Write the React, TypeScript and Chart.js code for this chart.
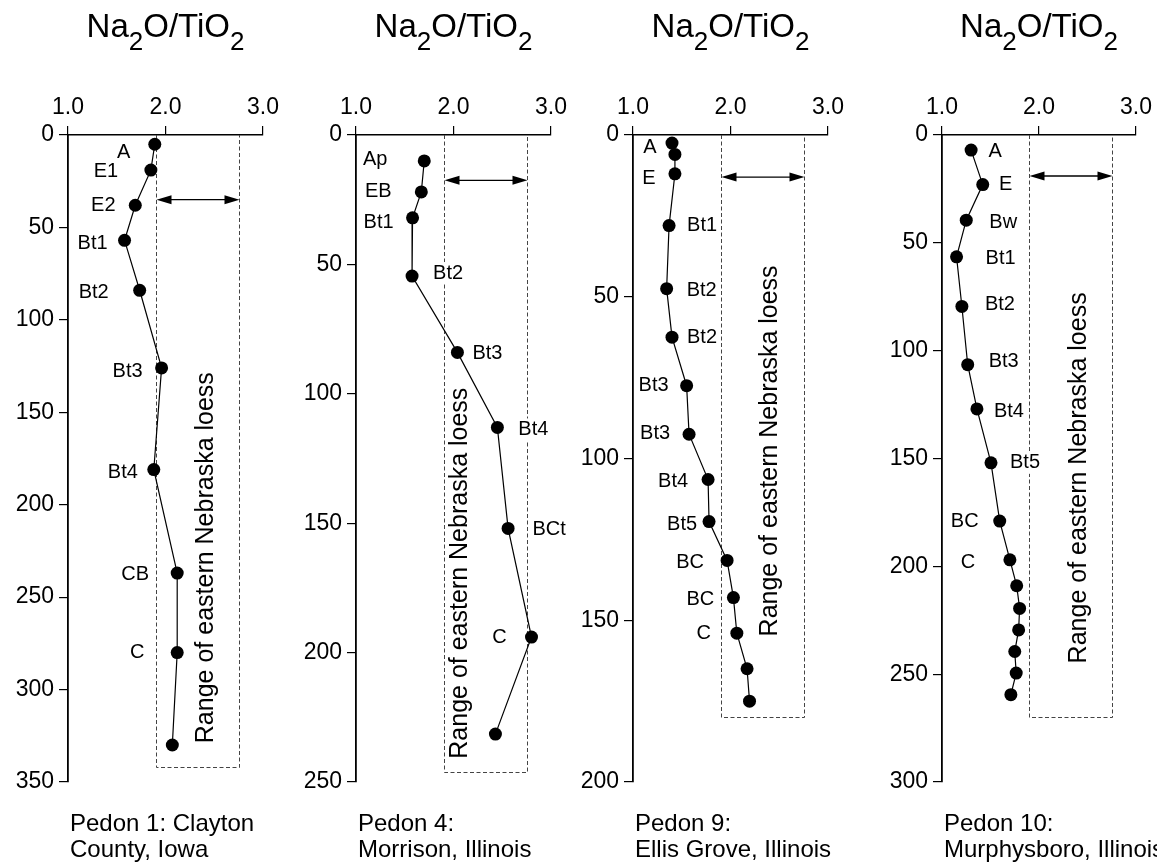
import { useEffect, useRef } from 'react';
import { Chart, registerables } from 'chart.js';

Chart.register(...registerables);

// ---- Pedon 1: Clayton County, Iowa ----
const p1Horizons = ['A', 'E1', 'E2', 'Bt1', 'Bt2', 'Bt3', 'Bt4', 'CB', 'C', ''];
const p1Ratio = [1.89, 1.85, 1.69, 1.58, 1.735, 1.96, 1.88, 2.12, 2.12, 2.07];
const p1Depth = [5, 19, 38, 57, 84, 126, 181, 237, 280, 330];

// ---- Pedon 4: Morrison, Illinois ----
const p4Horizons = ['Ap', 'EB', 'Bt1', 'Bt2', 'Bt3', 'Bt4', 'BCt', 'C', ''];
const p4Ratio = [1.7, 1.67, 1.58, 1.575, 2.04, 2.45, 2.56, 2.8, 2.43];
const p4Depth = [10, 22, 32, 54.5, 84, 113, 152, 194, 231.5];

// ---- Pedon 9: Ellis Grove, Illinois ----
const p9Horizons = ['A', '', 'E', 'Bt1', 'Bt2', 'Bt2', 'Bt3', 'Bt3', 'Bt4', 'Bt5', 'BC', 'BC', 'C', '', ''];
const p9Ratio = [1.4, 1.43, 1.43, 1.37, 1.345, 1.4, 1.55, 1.575, 1.77, 1.78, 1.965, 2.03, 2.065, 2.17, 2.195];
const p9Depth = [2.5, 6, 12, 28, 47.5, 62.5, 77.5, 92.5, 106.5, 119.5, 131.5, 143, 154, 165, 175];

// ---- Pedon 10: Murphysboro, Illinois ----
const p10Horizons = ['A', 'E', 'Bw', 'Bt1', 'Bt2', 'Bt3', 'Bt4', 'Bt5', 'BC', 'C', '', '', '', '', '', ''];
const p10Ratio = [1.3, 1.42, 1.25, 1.15, 1.205, 1.265, 1.36, 1.505, 1.595, 1.7, 1.77, 1.8, 1.79, 1.75, 1.765, 1.71];
const p10Depth = [7, 23, 39.5, 56.5, 79.5, 106.5, 127, 152, 179, 197, 209, 219.5, 229.5, 239.5, 249.5, 259.5];

// Range of Na2O/TiO2 in eastern Nebraska loess
const loessMin = 1.9;
const loessMax = 2.75;

// Axis ranges
const ratioMin = 1;
const ratioMax = 3;
const depthMax = [350, 250, 200, 300];
const depthStep = 50;

// Depth (cm) where each reference box ends, where its arrow sits, and where its caption starts
const boxBottom = [342, 246, 180, 270];
const arrowDepth = [35, 17.5, 13, 19];
const rangeTextX = [2.415, 2.07, 2.41, 2.41];
const rangeTextDepth = [329, 241, 155, 245];

const captions = [
  ['Pedon 1: Clayton', 'County, Iowa'],
  ['Pedon 4:', 'Morrison, Illinois'],
  ['Pedon 9:', 'Ellis Grove, Illinois'],
  ['Pedon 10:', 'Murphysboro, Illinois'],
];

// Horizon label placement: pixel offset of the label centre from its point
const p1LabelOffsets = [[-31, 8], [-45, 1], [-32, 0], [-32, 3], [-46, 2], [-34, 4], [-31, 3], [-42, 1], [-40, 0], [0, 0]];
const p4LabelOffsets = [[-49, -1], [-43, 0], [-34, 5], [36, -3], [30, 1], [36, 2], [41, 1], [-32, 0], [0, 0]];
const p9LabelOffsets = [[-22, 4], [0, 0], [-26, 5], [33, 0], [35, 2], [30, 0], [-33, 0], [-34, -1], [-35, 2], [-27, 3], [-37, 2], [-33, 2], [-33, 0], [0, 0], [0, 0]];
const p10LabelOffsets = [[24, 1], [23, 0], [37, 2], [44, 2], [38, -2], [36, -3], [32, 3], [34, 0], [-35, 0], [-42, 3], [0, 0], [0, 0], [0, 0], [0, 0], [0, 0], [0, 0]];

// Page layout
const PAGE_W = 1157;
const PAGE_H = 862;
const PLOT_LEFT = [68, 356, 633, 942];
const PLOT_W = 195;
const PLOT_TOP = 135;
const PLOT_BOTTOM = 782;
const Y_AXIS_W = 60;
const X_AXIS_H = 50;

const FAMILY = '"Liberation Sans", Arial, Helvetica, sans-serif';
const font = (size: number) => `${size}px ${FAMILY}`;

type Panel = {
  id: string;
  horizons: string[];
  ratio: number[];
  depth: number[];
  offsets: number[][];
  index: number;
};

const panels: Panel[] = [
  { id: 'p1', horizons: p1Horizons, ratio: p1Ratio, depth: p1Depth, offsets: p1LabelOffsets, index: 0 },
  { id: 'p4', horizons: p4Horizons, ratio: p4Ratio, depth: p4Depth, offsets: p4LabelOffsets, index: 1 },
  { id: 'p9', horizons: p9Horizons, ratio: p9Ratio, depth: p9Depth, offsets: p9LabelOffsets, index: 2 },
  { id: 'p10', horizons: p10Horizons, ratio: p10Ratio, depth: p10Depth, offsets: p10LabelOffsets, index: 3 },
];

function drawArrowHead(ctx: CanvasRenderingContext2D, tipX: number, y: number, dir: number) {
  const len = 15;
  const half = 4.5;
  ctx.beginPath();
  ctx.moveTo(tipX, y);
  ctx.lineTo(tipX - dir * len, y - half);
  ctx.lineTo(tipX - dir * len, y + half);
  ctx.closePath();
  ctx.fill();
}

function decorPlugin(panel: Panel) {
  const i = panel.index;
  return {
    id: 'pedonDecor',
    beforeDatasetsDraw(chart: any) {
      const { ctx } = chart;
      const xs = chart.scales.x;
      const ys = chart.scales.y;
      const xl = Math.round(xs.getPixelForValue(loessMin)) + 0.5;
      const xr = Math.round(xs.getPixelForValue(loessMax)) + 0.5;
      const yt = ys.getPixelForValue(0);
      const yb = Math.round(ys.getPixelForValue(boxBottom[i])) + 0.5;

      ctx.save();
      // dashed outline of the loess range
      ctx.strokeStyle = '#444';
      ctx.lineWidth = 1;
      ctx.setLineDash([4, 2.5]);
      ctx.beginPath();
      ctx.moveTo(xl, yt);
      ctx.lineTo(xl, yb);
      ctx.lineTo(xr, yb);
      ctx.lineTo(xr, yt);
      ctx.stroke();
      ctx.setLineDash([]);

      // double-headed arrow spanning the range
      const ya = ys.getPixelForValue(arrowDepth[i]);
      ctx.strokeStyle = '#000';
      ctx.fillStyle = '#000';
      ctx.lineWidth = 1.3;
      ctx.beginPath();
      ctx.moveTo(xl + 4, ya);
      ctx.lineTo(xr - 4, ya);
      ctx.stroke();
      drawArrowHead(ctx, xl, ya, -1);
      drawArrowHead(ctx, xr, ya, 1);

      // vertical caption inside the box
      ctx.save();
      ctx.translate(xs.getPixelForValue(rangeTextX[i]), ys.getPixelForValue(rangeTextDepth[i]));
      ctx.rotate(-Math.PI / 2);
      ctx.font = font(25);
      ctx.textAlign = 'left';
      ctx.textBaseline = 'middle';
      ctx.fillStyle = '#000';
      ctx.fillText('Range of eastern Nebraska loess', 0, 0);
      ctx.restore();

      // horizon names beside the points
      ctx.font = font(20);
      ctx.textAlign = 'center';
      ctx.textBaseline = 'middle';
      panel.horizons.forEach((h, k) => {
        if (!h) return;
        const px = xs.getPixelForValue(panel.ratio[k]) + panel.offsets[k][0];
        const py = ys.getPixelForValue(panel.depth[k]) + panel.offsets[k][1];
        const w = ctx.measureText(h).width;
        ctx.fillStyle = '#fff';
        ctx.fillRect(px - w / 2 - 2, py - 11, w + 4, 22);
        ctx.fillStyle = '#000';
        ctx.fillText(h, px, py);
      });
      ctx.restore();
    },
    afterDraw(chart: any) {
      const { ctx, chartArea } = chart;
      ctx.save();
      ctx.fillStyle = '#000';
      ctx.textBaseline = 'alphabetic';
      ctx.textAlign = 'left';

      // Na2O/TiO2 heading with subscripts
      const parts: [string, boolean][] = [['Na', false], ['2', true], ['O/TiO', false], ['2', true]];
      const mainFont = font(33);
      const subFont = font(26);
      let total = 0;
      parts.forEach(([t, sub]) => {
        ctx.font = sub ? subFont : mainFont;
        total += ctx.measureText(t).width;
      });
      let cx = (chartArea.left + chartArea.right) / 2 - total / 2;
      parts.forEach(([t, sub]) => {
        ctx.font = sub ? subFont : mainFont;
        ctx.fillText(t, cx, sub ? 50 : 37);
        cx += ctx.measureText(t).width;
      });

      // pedon caption under the axis
      ctx.font = font(24);
      const [l1, l2] = captions[i];
      ctx.fillText(l1, chartArea.left + 2, 831);
      ctx.fillText(l2, chartArea.left + 2, 857);
      ctx.restore();
    },
  };
}

function PedonChart({ panel }: { panel: Panel }) {
  const ref = useRef<HTMLCanvasElement>(null);

  useEffect(() => {
    const i = panel.index;
    const left = PLOT_LEFT[i];
    const tickFont = { family: FAMILY, size: 23 };
    const chart = new Chart(ref.current as HTMLCanvasElement, {
      type: 'scatter',
      data: {
        datasets: [
          {
            data: panel.ratio.map((r, k) => ({ x: r, y: panel.depth[k] })),
            showLine: true,
            borderColor: '#000',
            borderWidth: 1.2,
            backgroundColor: '#000',
            pointBackgroundColor: '#000',
            pointBorderWidth: 0,
            pointRadius: 6.5,
            clip: false,
          } as any,
        ],
      },
      options: {
        animation: false,
        responsive: false,
        devicePixelRatio: 1,
        events: [],
        layout: {
          padding: {
            left: left - Y_AXIS_W,
            right: PAGE_W - (left + PLOT_W),
            top: PLOT_TOP - X_AXIS_H,
            bottom: PAGE_H - PLOT_BOTTOM,
          },
        },
        plugins: { legend: { display: false }, tooltip: { enabled: false } },
        scales: {
          x: {
            type: 'linear',
            position: 'top',
            min: ratioMin,
            max: ratioMax,
            ticks: {
              stepSize: 1,
              color: '#000',
              font: tickFont,
              padding: 5,
              maxRotation: 0,
              callback: (v: any) => Number(v).toFixed(1),
            },
            grid: { drawOnChartArea: false, tickLength: 9, color: '#000', lineWidth: 1.2 },
            border: { color: '#000', width: 1.5 },
            afterFit: (s: any) => {
              s.height = X_AXIS_H;
            },
          },
          y: {
            type: 'linear',
            position: 'left',
            reverse: true,
            min: 0,
            max: depthMax[i],
            ticks: { stepSize: depthStep, color: '#000', font: tickFont, padding: 5 },
            grid: { drawOnChartArea: false, tickLength: 9, color: '#000', lineWidth: 1.2 },
            border: { color: '#000', width: 1.8 },
            afterFit: (s: any) => {
              s.width = Y_AXIS_W;
            },
          },
        },
      } as any,
      plugins: [decorPlugin(panel)],
    });
    return () => chart.destroy();
  }, [panel]);

  return (
    <canvas
      ref={ref}
      width={PAGE_W}
      height={PAGE_H}
      style={{ position: 'absolute', left: 0, top: 0, width: PAGE_W, height: PAGE_H, pointerEvents: 'none' }}
    />
  );
}

export default function App() {
  return (
    <div
      style={{
        position: 'absolute',
        left: 0,
        top: 0,
        width: PAGE_W,
        height: PAGE_H,
        background: '#fff',
        overflow: 'hidden',
      }}
    >
      {panels.map((p) => (
        <PedonChart key={p.id} panel={p} />
      ))}
    </div>
  );
}
